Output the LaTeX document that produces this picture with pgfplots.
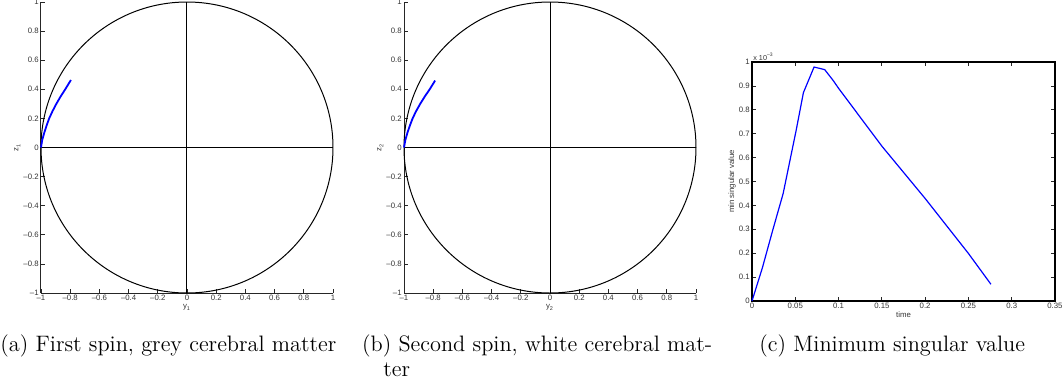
\documentclass[border=0pt]{standalone}
\usepackage{pgfplots}
\pgfplotsset{compat=1.18}
\usepackage{fontspec}
\newfontfamily\axfont{Liberation Sans}

\definecolor{curveblue}{RGB}{0,0,255}

% shared look of the three panels
\pgfplotsset{
  panel/.style={
    scale only axis,
    tick align=inside,
    major tick length=2pt,
    axis line style={line width=0.5pt, black!85},
    tick style={black!85, line width=0.4pt},
    ticklabel style={font=\axfont\fontsize{3.9}{4.5}\selectfont, text=black!80},
    label style={font=\axfont\fontsize{3.9}{4.5}\selectfont, text=black!80},
    /pgf/number format/assume math mode=true,
    xticklabel style={inner sep=1pt},
    yticklabel style={inner sep=1pt},
  },
  spin/.style={
    panel,
    width=146pt, height=145.5pt,
    xmin=-1, xmax=1, ymin=-1, ymax=1,
    axis x line*=bottom, axis y line*=left,
    xtick={-1,-0.8,...,1.01},
    ytick={-1,-0.8,...,1.01},
    xticklabels={\textendash1,\textendash0.8,\textendash0.6,\textendash0.4,\textendash0.2,0,0.2,0.4,0.6,0.8,1},
    yticklabels={\textendash1,\textendash0.8,\textendash0.6,\textendash0.4,\textendash0.2,0,0.2,0.4,0.6,0.8,1},
    xlabel style={yshift=3pt},
    ylabel style={yshift=-3pt},
    clip=false,
  },
}

% spin trajectories on the unit circle
\pgfplotstableread{
y z
-1.000 0.00
-0.992 0.05
-0.978 0.10
-0.962 0.15
-0.944 0.20
-0.921 0.25
-0.895 0.30
-0.866 0.35
-0.834 0.40
-0.795 0.464
}\spinone
\pgfplotstableread{
y z
-1.000 0.00
-0.991 0.05
-0.977 0.10
-0.960 0.15
-0.941 0.20
-0.917 0.25
-0.889 0.30
-0.858 0.35
-0.824 0.40
-0.787 0.46
}\spintwo

% minimum singular value (units of 1e-3) against time
\pgfplotstableread{
t s
0.000 0.000
0.012 0.139
0.024 0.297
0.036 0.450
0.051 0.714
0.0594 0.872
0.0717 0.979
0.084 0.968
0.0937 0.923
0.100 0.890
0.150 0.648
0.200 0.429
0.250 0.199
0.276 0.070
}\minsv

\begin{document}
\begin{tikzpicture}[x=1pt,y=1pt]
\useasboundingbox (0,0) rectangle (531,-193.5);

% (a) first spin
\begin{axis}[spin, at={(20.5pt,-146.5pt)}, anchor=south west,
  xlabel={y\textsubscript{1}}, ylabel={z\textsubscript{1}}]
  \draw[black, line width=0.5pt] (axis cs:0,0) ellipse [x radius=1, y radius=1];
  \addplot[black, line width=0.5pt] coordinates {(-1,0) (1,0)};
  \addplot[black, line width=0.5pt] coordinates {(0,-1) (0,1)};
  \addplot[curveblue, line width=0.9pt] table[x=y, y=z] {\spinone};
\end{axis}

% (b) second spin
\begin{axis}[spin, at={(202pt,-146.5pt)}, anchor=south west,
  xlabel={y\textsubscript{2}}, ylabel={z\textsubscript{2}}]
  \draw[black, line width=0.5pt] (axis cs:0,0) ellipse [x radius=1, y radius=1];
  \addplot[black, line width=0.5pt] coordinates {(-1,0) (1,0)};
  \addplot[black, line width=0.5pt] coordinates {(0,-1) (0,1)};
  \addplot[curveblue, line width=0.9pt] table[x=y, y=z] {\spintwo};
\end{axis}

% (c) minimum singular value
\begin{axis}[panel, at={(376pt,-150.5pt)}, anchor=south west,
  width=151.5pt, height=119.5pt,
  xmin=0, xmax=0.35, ymin=0, ymax=1,
  axis line style={line width=0.8pt, black},
  xtick={0,0.05,...,0.351},
  ytick={0,0.1,...,1.01},
  xticklabels={0,0.05,0.1,0.15,0.2,0.25,0.3,0.35},
  yticklabels={0,0.1,0.2,0.3,0.4,0.5,0.6,0.7,0.8,0.9,1},
  xlabel={time}, ylabel={min singular value},
  xlabel style={yshift=3pt},
  ylabel style={yshift=-3pt},
  clip=false]
  \addplot[curveblue, line width=0.6pt] table[x=t, y=s] {\minsv};
  \node[anchor=south west, inner sep=0.5pt, font=\axfont\fontsize{3.6}{4}\selectfont, text=black!80]
    at (rel axis cs:0,1) {x 10\textsuperscript{\textendash3}};
\end{axis}

% captions
\begin{scope}[every node/.style={inner sep=0pt, font=\fontsize{11.17}{12.5}\selectfont}]
  \node[anchor=base west] at (0,-175.85) {(a) First spin, grey cerebral matter};
  \node[anchor=base west] at (180.85,-175.85) {(b) Second spin, white cerebral mat-};
  \node[anchor=base west] at (191.5,-188.35) {ter};
  \node[anchor=base west] at (379.5,-175.85) {(c) Minimum singular value};
\end{scope}
\end{tikzpicture}
\end{document}
